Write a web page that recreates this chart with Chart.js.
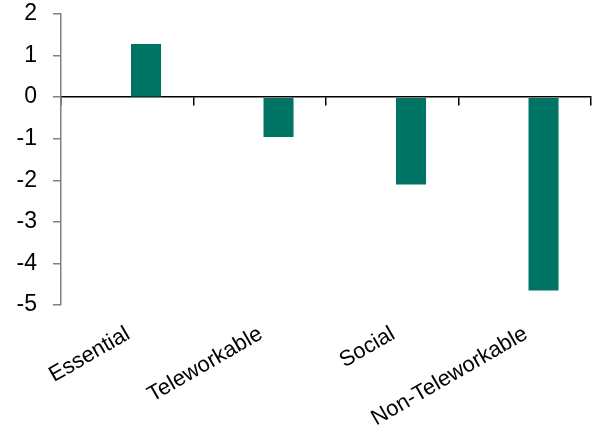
<!DOCTYPE html>
<html>
<head>
<meta charset="utf-8">
<script src="https://cdn.jsdelivr.net/npm/chart.js@4/dist/chart.umd.min.js"></script>
<style>
  html, body { margin: 0; padding: 0; background: #fff; }
  #wrap { width: 595px; height: 427px; position: relative; }
</style>
</head>
<body>
<div id="wrap"><canvas id="chart"></canvas></div>
<script>
// Change by job category (percentage points)
const categories = ['Essential', 'Teleworkable', 'Social', 'Non-Teleworkable'];
const changeValues = [1.28, -0.96, -2.1, -4.65];
// empty first series keeps the bars shifted right inside each category
const blankValues = [null, null, null, null];
const yTicks = [2, 1, 0, -1, -2, -3, -4, -5];

const FONT = "'Liberation Sans', Arial, sans-serif";
const BAR_COLOR = '#007464';

new Chart(document.getElementById('chart'), {
  type: 'bar',
  data: {
    labels: categories,
    datasets: [
      { data: blankValues, backgroundColor: BAR_COLOR },
      { data: changeValues, backgroundColor: BAR_COLOR, borderWidth: 0 }
    ]
  },
  options: {
    responsive: true,
    maintainAspectRatio: false,
    animation: false,
    categoryPercentage: 0.567,
    barPercentage: 0.8,
    layout: { padding: { top: 0, right: 4, left: 0, bottom: 0 } },
    plugins: { legend: { display: false }, tooltip: { enabled: false } },
    scales: {
      x: {
        position: 'bottom',
        grid: { display: false },
        border: { display: false },
        ticks: {
          color: '#000',
          font: { family: FONT, size: 22 },
          maxRotation: 30,
          minRotation: 30,
          padding: 8,
          labelOffset: 1,
          autoSkip: false
        },
        afterFit: s => { s.height = 122; }
      },
      // zero line with category tick marks
      xZero: {
        type: 'category',
        labels: categories,
        position: { y: 0 },
        offset: true,
        grid: { offset: true, drawOnChartArea: false, drawTicks: true, tickLength: 8, color: '#000', lineWidth: 1.5 },
        border: { color: '#000', width: 1.5 },
        ticks: { display: false }
      },
      y: {
        min: -5,
        max: 2,
        afterBuildTicks: s => { s.ticks = yTicks.map(v => ({ value: v })); },
        grid: { drawOnChartArea: false, tickLength: 8, color: '#808080', lineWidth: 1.5 },
        border: { color: '#808080', width: 1.5 },
        ticks: {
          color: '#000',
          font: { family: FONT, size: 23 },
          padding: 16
        },
        afterFit: s => { s.width = 61; s.paddingTop = 14; }
      }
    }
  }
});
</script>
</body>
</html>
